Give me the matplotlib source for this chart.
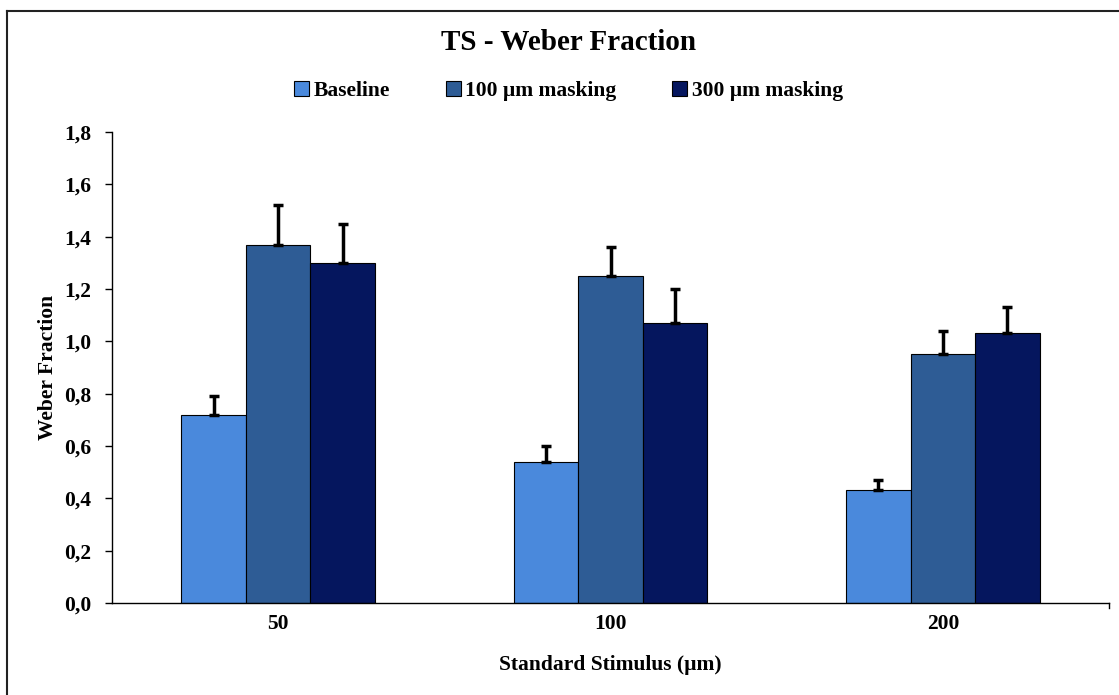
import matplotlib
matplotlib.use("Agg")
import matplotlib.pyplot as plt
import numpy as np
from matplotlib.patches import Patch
from matplotlib.lines import Line2D
from matplotlib.ticker import FuncFormatter, MultipleLocator

categories = ["50", "100", "200"]
series_names = ["Baseline", "100 µm masking", "300 µm masking"]
baseline = [0.72, 0.54, 0.43]
mask100 = [1.37, 1.25, 0.95]
mask300 = [1.30, 1.07, 1.03]
err_baseline = [0.07, 0.06, 0.04]
err_mask100 = [0.15, 0.11, 0.09]
err_mask300 = [0.15, 0.13, 0.10]
colors = ["#4A89DC", "#2E5C95", "#05165E"]

plt.rcParams['font.family'] = ['Liberation Serif', 'DejaVu Serif']
plt.rcParams['font.weight'] = 'bold'

fig = plt.figure(figsize=(11.19, 6.95), dpi=100)
ax = fig.add_axes([112/1119, 1-603/695, (1109-112)/1119, (603-132)/695])

x = np.arange(len(categories))
w = 0.194
vals = [baseline, mask100, mask300]
errs = [err_baseline, err_mask100, err_mask300]
for i, (v, e, c) in enumerate(zip(vals, errs, colors)):
    ax.bar(x + (i-1)*w, v, width=w, color=c, edgecolor='black', linewidth=0.8,
           yerr=[np.zeros(len(e)), e], capsize=3.5,
           error_kw=dict(elinewidth=2.5, capthick=2.5, ecolor='black'), zorder=2)

ax.set_xlim(-0.5, 2.5)
ax.set_ylim(0, 1.8)
ax.yaxis.set_major_locator(MultipleLocator(0.2))
ax.yaxis.set_major_formatter(FuncFormatter(lambda v, p: f"{v:.1f}".replace('.', ',')))
ax.set_xticks(x)
ax.set_xticklabels(categories)
ax.tick_params(axis='x', length=0, pad=8, labelsize=15.5)
ax.tick_params(axis='y', length=5, width=1, direction='out', labelsize=15.5, pad=10)
for s in ['top', 'right']:
    ax.spines[s].set_visible(False)
ax.spines['left'].set_linewidth(1)
ax.spines['bottom'].set_linewidth(1)
ax.plot([2.5, 2.5], [0, -0.02], color='black', lw=1, clip_on=False)

ax.set_ylabel("Weber Fraction", fontsize=15.5, fontweight='bold', labelpad=4)
ax.set_xlabel("Standard Stimulus (µm)", fontsize=15.5, fontweight='bold', labelpad=15)

fig.text(0.508, 1-42/695, "TS - Weber Fraction", ha='center', va='center',
         fontsize=21, fontweight='bold')

handles = [Patch(facecolor=c, edgecolor='black', linewidth=0.8) for c in colors]
leg = fig.legend(handles, series_names, loc='center', bbox_to_anchor=(0.508, 1-91/695),
                 ncol=3, frameon=False, handlelength=0.7, handleheight=0.7,
                 handletextpad=0.2, columnspacing=2.6, prop={'weight': 'bold', 'size': 15.5})

fig.add_artist(Line2D([7/1119, 1.0], [1-11/695, 1-11/695], color='#222222', lw=1.5))
fig.add_artist(Line2D([7/1119, 7/1119], [0, 1-11/695], color='#222222', lw=1.5))

fig.savefig("out.png", dpi=100)
